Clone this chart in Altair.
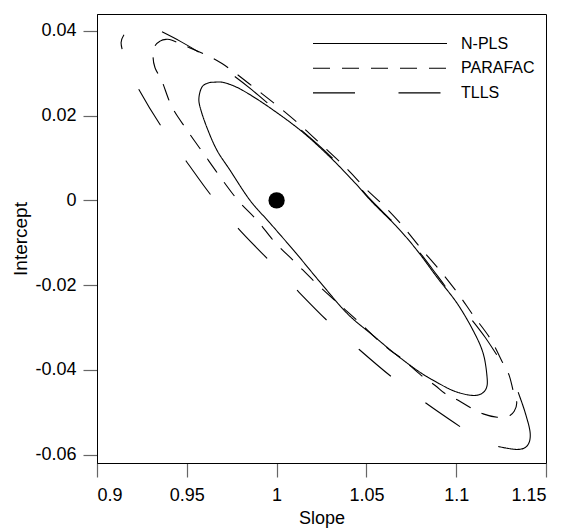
import altair as alt
import pandas as pd

# ---- data ----
npls_slope = [0.9568, 0.9585, 0.9618, 0.9652, 0.9707, 0.9797, 0.9941, 1.0131, 1.0298, 1.0437,
              1.0532, 1.0671, 1.0782, 1.0894, 1.1005, 1.1094, 1.1150, 1.1172, 1.1167, 1.1133,
              1.1078, 1.0994, 1.0911, 1.0799, 1.0671, 1.0537, 1.0393, 1.0242, 1.0103, 0.9964,
              0.9852, 0.9741, 0.9667, 0.9611, 0.9574]
npls_intercept = [0.0244, 0.0268, 0.0277, 0.0279, 0.0278, 0.0263, 0.0225, 0.0166, 0.0102, 0.0041,
                  -0.0004, -0.0063, -0.0118, -0.0182, -0.0243, -0.0307, -0.0361, -0.0418, -0.0444, -0.0458,
                  -0.0460, -0.0451, -0.0434, -0.0406, -0.0366, -0.0319, -0.0267, -0.0193, -0.0122, -0.0054,
                  0.0000, 0.0071, 0.0119, 0.0173, 0.0220]

parafac_slope = [0.9323, 0.9351, 0.9384, 0.9418, 0.9518, 0.9629, 0.9696, 0.9769, 0.9891, 1.0008,
                 1.0131, 1.0253, 1.0381, 1.0493, 1.0593, 1.0699, 1.0799, 1.0899, 1.1005, 1.1094,
                 1.1189, 1.1261, 1.1295, 1.1317, 1.1337, 1.1323, 1.1289, 1.1228, 1.1150, 1.1078,
                 1.1011, 1.0938, 1.0883, 1.0805, 1.0699, 1.0632, 1.0565, 1.0448, 1.0337, 1.0214,
                 1.0103, 0.9991, 0.9891, 0.9785, 0.9685, 0.9596, 0.9501, 0.9418, 0.9362, 0.9323,
                 0.9312]
parafac_intercept = [0.0365, 0.0376, 0.0380, 0.0378, 0.0360, 0.0339, 0.0323, 0.0301, 0.0261, 0.0222,
                     0.0178, 0.0130, 0.0079, 0.0029, -0.0011, -0.0059, -0.0111, -0.0160, -0.0217, -0.0271,
                     -0.0326, -0.0385, -0.0413, -0.0449, -0.0477, -0.0498, -0.0510, -0.0512, -0.0504, -0.0489,
                     -0.0472, -0.0456, -0.0437, -0.0413, -0.0374, -0.0354, -0.0330, -0.0283, -0.0241, -0.0193,
                     -0.0146, -0.0099, -0.0047, 0.0000, 0.0056, 0.0109, 0.0166, 0.0220, 0.0281, 0.0313,
                     0.0341]

# TLLS: lower-left branch (from the left tip down to the right end), the right hook, upper branch
tlls_low_slope = [0.9150, 0.9134, 0.9150, 0.9184, 0.9234, 0.9357, 0.9496, 0.9635, 0.9786, 0.9947,
                  1.0114, 1.0287, 1.0460, 1.0644, 1.0833, 1.1028]
tlls_low_intercept = [0.0391, 0.0372, 0.0343, 0.0308, 0.0261, 0.0175, 0.0093, 0.0012, -0.0066, -0.0137,
                      -0.0212, -0.0286, -0.0352, -0.0418, -0.0479, -0.0536]
tlls_hook_slope = [1.1234, 1.1340, 1.1396, 1.1412, 1.1384, 1.1345]
tlls_hook_intercept = [-0.0581, -0.0588, -0.0579, -0.0550, -0.0501, -0.0453]
tlls_up_slope = [0.9362, 0.9462, 0.9563, 0.9668, 0.9769, 0.9863, 0.9952, 1.0131, 1.0298, 1.0437,
                 1.0532, 1.0671, 1.0782, 1.0894, 1.0994, 1.1089, 1.1161, 1.1228, 1.1289, 1.1345]
tlls_up_intercept = [0.0398, 0.0376, 0.0351, 0.0322, 0.0292, 0.0261, 0.0229, 0.0168, 0.0105, 0.0043,
                     -0.0002, -0.0061, -0.0115, -0.0177, -0.0234, -0.0283, -0.0323, -0.0366, -0.0406, -0.0453]

true_point = {"slope": [1.0], "intercept": [0.0]}

series_names = ["N-PLS", "PARAFAC", "TLLS"]
x_ticks = [0.9, 0.95, 1.0, 1.05, 1.1, 1.15]
y_ticks = [0.04, 0.02, 0.0, -0.02, -0.04, -0.06]
x_domain = [0.9, 1.15]
y_domain = [-0.062, 0.044]

FONT = "Liberation Sans"


def curve_df(xs, ys):
    return pd.DataFrame({"slope": xs, "intercept": ys, "i": list(range(len(xs)))})


label_expr = "datum.value < 0 ? '-' + format(-datum.value, '~g') : format(datum.value, '~g')"

x_enc = alt.X("slope:Q", scale=alt.Scale(domain=x_domain, nice=False, zero=False),
              axis=alt.Axis(values=x_ticks, labelExpr=label_expr, title="Slope"))
y_enc = alt.Y("intercept:Q", scale=alt.Scale(domain=y_domain, nice=False, zero=False),
              axis=alt.Axis(values=y_ticks, labelExpr=label_expr, title="Intercept"))

dashes = {"N-PLS": [1, 0], "PARAFAC": [17, 12], "TLLS": [42, 43.5]}


def curve(xs, ys, dash, interp, offset=0):
    return alt.Chart(curve_df(xs, ys)).mark_line(
        color="black", strokeWidth=1.1, interpolate=interp, strokeDash=dash,
        strokeDashOffset=offset, clip=True
    ).encode(x=x_enc, y=y_enc, order="i:Q")


layers = [
    curve(npls_slope, npls_intercept, dashes["N-PLS"], "cardinal-closed"),
    curve(parafac_slope, parafac_intercept, dashes["PARAFAC"], "cardinal-closed"),
    curve(tlls_low_slope, tlls_low_intercept, dashes["TLLS"], "cardinal", 27),
    curve(tlls_hook_slope, tlls_hook_intercept, [1, 0], "cardinal"),
    curve(tlls_up_slope, tlls_up_intercept, dashes["TLLS"], "cardinal"),
    alt.Chart(pd.DataFrame(true_point)).mark_circle(color="black", opacity=1, size=265).encode(x=x_enc, y=y_enc),
]

# manual legend (top right inside plot)
for k, name in enumerate(series_names):
    row = alt.Data(values=[{"label": name}])
    ypos = 29.5 + 24.7 * k
    layers.append(
        alt.Chart(row).mark_rule(color="black", strokeWidth=1.1, strokeDash=dashes[name]).encode(
            x=alt.value(216), x2=alt.value(350), y=alt.value(ypos)
        )
    )
    layers.append(
        alt.Chart(row).mark_text(align="left", baseline="middle", font=FONT, fontSize=16, color="black").encode(
            x=alt.value(364), y=alt.value(ypos), text="label:N"
        )
    )

chart = alt.layer(*layers).properties(
    width=449, height=449,
    autosize=alt.AutoSizeParams(type="none"),
    padding={"left": 89, "top": 6, "right": 11, "bottom": 68},
).configure_view(
    stroke="black", strokeWidth=1
).configure_axis(
    grid=False,
    domainColor="black",
    domainWidth=1,
    tickColor="#666666",
    tickWidth=1.2,
    tickSize=14,
    labelFont=FONT,
    labelFontSize=18,
    labelColor="black",
    titleFont=FONT,
    titleColor="black",
    titleFontWeight="normal",
).configure_axisX(
    labelPadding=9, titlePadding=5, titleFontSize=18
).configure_axisY(
    labelPadding=7, titlePadding=4, titleFontSize=19
)

chart.save("out.html", embed_options={"renderer": "svg", "actions": False})
